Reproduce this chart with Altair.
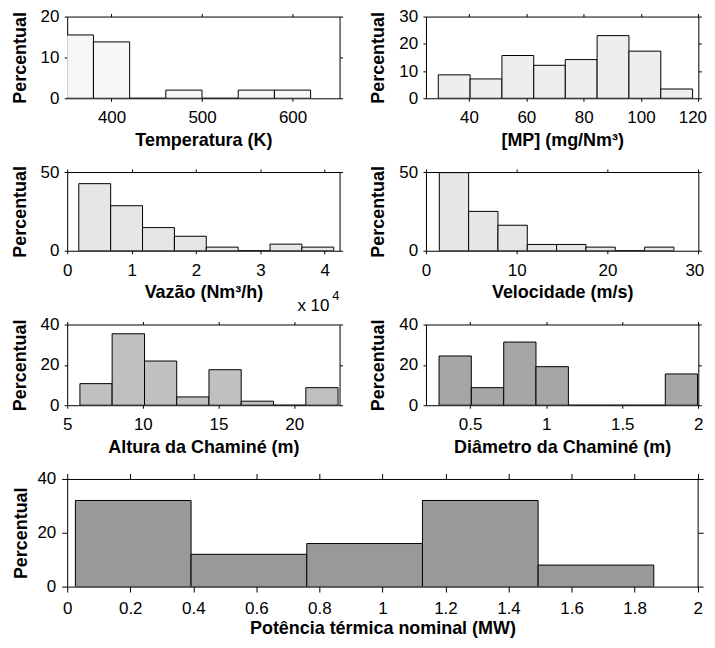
import altair as alt
import pandas as pd

# ---------------- data (percent of cases per histogram bin) ----------------
temp_edges = [340, 380, 420, 460, 500, 540, 580, 620]
temp_pct = [15.5, 13.8, 0, 2.0, 0, 2.0, 2.0]

mp_edges = [29.3, 40.4, 51.5, 62.6, 73.6, 84.7, 95.8, 106.9, 118.0]
mp_pct = [8.6, 7.1, 15.7, 12.1, 14.2, 23.0, 17.3, 3.4]

vaz_edges = [0.18, 0.675, 1.17, 1.665, 2.16, 2.655, 3.15, 3.645, 4.14]  # x 10^4 Nm3/h
vaz_pct = [42.6, 28.6, 14.7, 9.2, 2.3, 0, 4.2, 2.3]

vel_edges = [1.47, 4.70, 7.93, 11.16, 14.39, 17.62, 20.85, 24.08, 27.31]
vel_pct = [49.6, 25.0, 16.2, 4.0, 4.0, 2.3, 0, 2.3]

alt_edges = [5.84, 7.97, 10.11, 12.24, 14.37, 16.50, 18.64, 20.77, 22.90]
alt_pct = [10.7, 35.4, 21.9, 4.1, 17.6, 2.0, 0, 8.7]

dia_edges = [0.296, 0.508, 0.721, 0.933, 1.146, 1.358, 1.570, 1.783, 1.995]
dia_pct = [24.4, 8.7, 31.3, 19.1, 0, 0, 0, 15.5]

pot_edges = [0.026, 0.393, 0.760, 1.127, 1.494, 1.861]
pot_pct = [32, 12, 16, 32, 8]

exp_text = ["x 10", "4"]

FONT = "Liberation Sans"
LBL = "'' + datum.value"


def panel(edges, pct, xdom, xticks, ydom, yticks, fill, xtitle, w, h,
          tick=3, xlabpad=8.5, ylabpad=5.4, ytitlepad=11, xtitlepad=5.5,
          last_shift=0, extra=()):
    df = pd.DataFrame({"x0": edges[:-1], "x1": edges[1:], "pct": pct,
                       "base": [0] * len(pct)})
    xs = alt.Scale(domain=xdom, nice=False, zero=False)
    ys = alt.Scale(domain=ydom, nice=False, zero=False)
    xaxis_kw = dict(values=xticks, title=xtitle, labelExpr=LBL, tickSize=tick,
                    labelPadding=xlabpad, titlePadding=xtitlepad)
    if last_shift:
        xaxis_kw["labelOffset"] = {
            "condition": {"test": f"datum.value == {xticks[-1]}", "value": last_shift},
            "value": 0}
    bars = alt.Chart(df).mark_rect(fill=fill, stroke="black", strokeWidth=1,
                                   clip=True).encode(
        x=alt.X("x0:Q", scale=xs, axis=alt.Axis(**xaxis_kw)),
        x2="x1:Q",
        y=alt.Y("pct:Q", scale=ys,
                axis=alt.Axis(values=yticks, title="Percentual", labelExpr=LBL,
                              tickSize=tick, labelPadding=ylabpad,
                              titlePadding=ytitlepad)),
        y2="base:Q",
    )
    frame = alt.Chart(df).mark_point(opacity=0).encode(
        x=alt.X("x0:Q", scale=xs,
                axis=alt.Axis(values=xticks, orient="top", labels=False,
                              title=None, tickSize=tick)),
        y=alt.Y("pct:Q", scale=ys,
                axis=alt.Axis(values=yticks, orient="right", labels=False,
                              title=None, tickSize=tick)),
    )
    return alt.layer(bars, frame, *extra).resolve_axis(
        x="independent", y="independent").properties(width=w, height=h)


W = 273.3

p1 = panel(temp_edges, temp_pct, [351, 652], [400, 500, 600], [0, 20],
           [0, 10, 20], "#f7f7f7", "Temperatura (K)", W, 82)

p2 = panel(mp_edges, mp_pct, [25, 120], [40, 60, 80, 100, 120], [0, 30],
           [0, 10, 20, 30], "#eeeeee", "[MP] (mg/Nm³)", W, 82, last_shift=-6)

exp_df = pd.DataFrame({"t": exp_text})
exp_main = alt.Chart(exp_df).transform_filter(alt.datum.t == exp_text[0]).mark_text(
    align="left", baseline="middle", font=FONT, fontSize=17, color="black"
).encode(text="t:N", x=alt.value(231), y=alt.value(134))
exp_sup = alt.Chart(exp_df).transform_filter(alt.datum.t == exp_text[1]).mark_text(
    align="left", baseline="middle", font=FONT, fontSize=13, color="black"
).encode(text="t:N", x=alt.value(266), y=alt.value(124))

p3 = panel(vaz_edges, vaz_pct, [0, 4.23], [0, 1, 2, 3, 4], [0, 50],
           [0, 50], "#e6e6e6", "Vazão (Nm³/h)", W, 79, extra=(exp_main, exp_sup))

p4 = panel(vel_edges, vel_pct, [0, 30], [0, 10, 20, 30], [0, 50],
           [0, 50], "#e6e6e6", "Velocidade (m/s)", W, 79, last_shift=-4)

p5 = panel(alt_edges, alt_pct, [5, 23], [5, 10, 15, 20], [0, 40],
           [0, 20, 40], "#c0c0c0", "Altura da Chaminé (m)", W, 81)

p6 = panel(dia_edges, dia_pct, [0.21, 2], [0.5, 1, 1.5, 2], [0, 40],
           [0, 20, 40], "#a6a6a6", "Diâmetro da Chaminé (m)", W, 81)

p7 = panel(pot_edges, pot_pct, [0, 2],
           [0, 0.2, 0.4, 0.6, 0.8, 1, 1.2, 1.4, 1.6, 1.8, 2], [0, 40],
           [0, 20, 40], "#999999", "Potência térmica nominal (MW)", 632.6, 108,
           tick=5.5, xlabpad=8.5, ylabpad=6, ytitlepad=6.9, xtitlepad=3.5)

grid = alt.concat(p1, p2, p3, p4, p5, p6, columns=2,
                  spacing={"row": 74, "column": 86}, bounds="flush")

chart = alt.vconcat(grid, p7, spacing=14).properties(
    padding={"left": 2.4, "top": -1.5, "right": 0, "bottom": -1},
    background="white",
).configure_view(stroke=None).configure_axis(
    domainColor="black", domainWidth=1, tickColor="black", tickWidth=1,
    labelColor="black", titleColor="black", labelFont=FONT, titleFont=FONT,
    labelFontSize=17, titleFontSize=18, titleFontWeight="bold",
    grid=False, labelFlush=False, labelOverlap=False,
)

chart.save("out.html", embed_options={"renderer": "svg", "actions": False})
